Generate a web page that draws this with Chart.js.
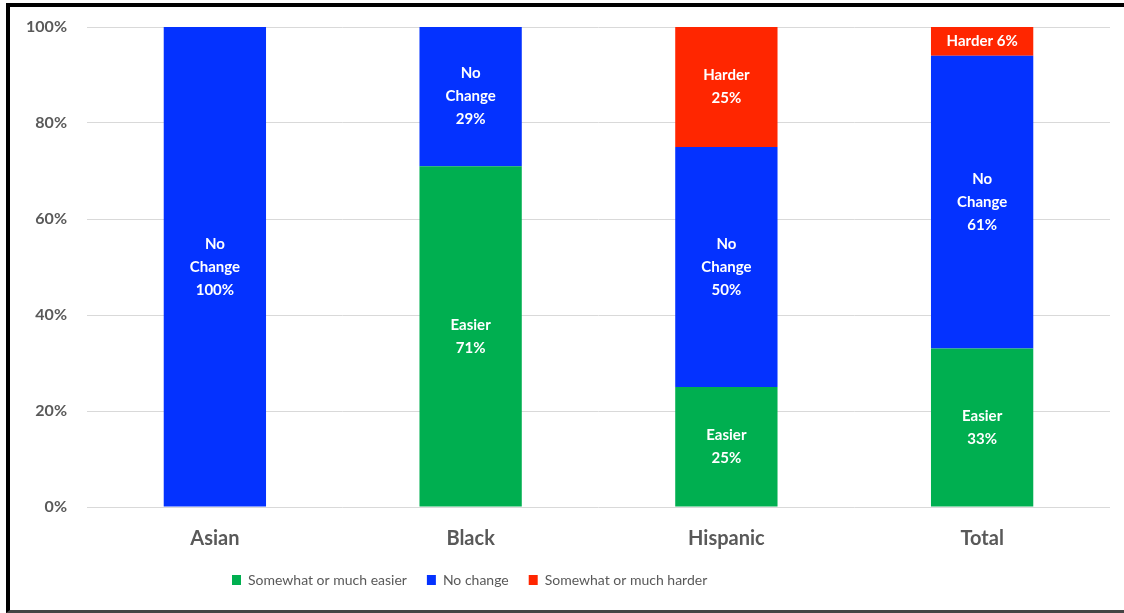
<!DOCTYPE html>
<html lang="en">
<head>
<meta charset="UTF-8">
<title>Change by group</title>
<script src="https://cdn.jsdelivr.net/npm/chart.js"></script>
<style>
  body { margin: 0; background: #fff; }
  #wrap { position: relative; width: 1124px; height: 613px; overflow: hidden; background: #fff; }
  #frame {
    position: absolute; left: 6px; top: 3px; right: -10px; bottom: 0;
    border-top: 4px solid #000; border-left: 4px solid #000; border-bottom: 3px solid #444;
    pointer-events: none;
  }
</style>
</head>
<body>
<div id="wrap">
  <canvas id="chart" width="1124" height="613"></canvas>
  <div id="frame"></div>
</div>
<script>
  const groups = ['Asian', 'Black', 'Hispanic', 'Total'];
  const easier = [0, 71, 25, 33];
  const noChange = [100, 29, 50, 61];
  const harder = [0, 0, 25, 6];
  const seriesNames = ['Somewhat or much easier', 'No change', 'Somewhat or much harder'];
  const segmentTags = ['Easier', 'No Change', 'Harder'];
  const seriesColors = ['#00AF50', '#0432FF', '#FF2600'];

  const gray = '#595959';

  // white labels inside each stacked segment
  const segmentLabels = {
    id: 'segmentLabels',
    afterDatasetsDraw(chart) {
      const ctx = chart.ctx;
      ctx.save();
      ctx.fillStyle = '#fff';
      ctx.font = 'bold 15px Lato';
      ctx.textAlign = 'center';
      ctx.textBaseline = 'middle';
      chart.data.datasets.forEach((ds, di) => {
        chart.getDatasetMeta(di).data.forEach((bar, i) => {
          const v = ds.data[i];
          if (!v) return;
          const pct = v + '%';
          const h = Math.abs(bar.base - bar.y);
          const lines = h < 50 ? [segmentTags[di] + ' ' + pct] : segmentTags[di].split(' ').concat(pct);
          const mid = (bar.y + bar.base) / 2;
          lines.forEach((t, k) => {
            ctx.fillText(t, bar.x, mid + (k - (lines.length - 1) / 2) * 23);
          });
        });
      });
      ctx.restore();
    }
  };

  // legend sits left of centre, under the bars
  const legendSpot = {
    id: 'legendSpot',
    afterLayout(chart) {
      const lg = chart.legend;
      const pad = lg.options.labels.padding;
      lg.left = 232 - pad;
      lg.top = 580 - pad - (lg._itemHeight || 14) / 2;
    }
  };

  new Chart(document.getElementById('chart'), {
    type: 'bar',
    data: {
      labels: groups,
      datasets: [easier, noChange, harder].map((vals, i) => ({
        label: seriesNames[i],
        data: vals,
        backgroundColor: seriesColors[i],
        borderWidth: 0,
        categoryPercentage: 1,
        barPercentage: 0.4
      }))
    },
    options: {
      responsive: false,
      animation: false,
      layout: { padding: { top: 27, right: 14, left: 0, bottom: 7 } },
      plugins: {
        tooltip: { enabled: false },
        legend: {
          position: 'bottom',
          align: 'start',
          labels: {
            color: gray,
            font: { family: 'Lato', size: 14 },
            boxWidth: 9,
            boxHeight: 10,
            padding: 20
          }
        }
      },
      scales: {
        x: {
          stacked: true,
          grid: { display: false },
          border: { display: false },
          ticks: { color: gray, font: { family: 'Lato', size: 20, weight: 'bold' }, padding: 12 },
          afterFit: s => { s.height = 55; }
        },
        y: {
          stacked: true,
          min: 0,
          max: 100,
          grid: { color: '#d9d9d9', lineWidth: 1, drawTicks: false },
          border: { display: false },
          ticks: {
            stepSize: 20,
            color: gray,
            font: { family: 'Lato', size: 16, weight: 'bold' },
            padding: 20,
            callback: v => v + '%'
          },
          afterFit: s => {
            s.width = 87;
            s.paddingTop = 0;
            s.paddingBottom = 0;
          }
        }
      }
    },
    plugins: [segmentLabels, legendSpot]
  });
</script>
</body>
</html>
